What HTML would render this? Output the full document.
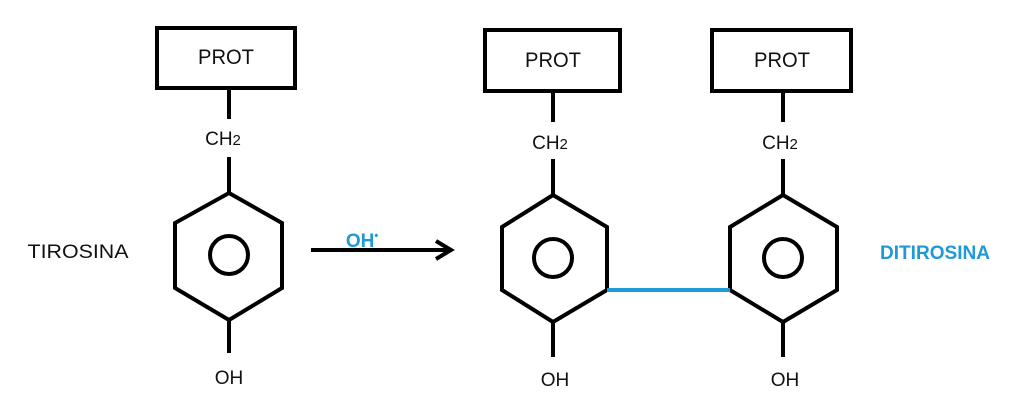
<!DOCTYPE html>
<html><head><style>body{margin:0;background:#fff}svg{display:block}</style></head><body>
<svg width="1024" height="408" viewBox="0 0 1024 408" font-family="Liberation Sans, sans-serif">
<g fill="none" stroke="#000" stroke-width="4">
<rect x="157" y="28" width="138" height="60"/>
<line x1="229" y1="88" x2="229" y2="119"/>
<line x1="229" y1="157" x2="229" y2="193"/>
<polygon points="229,193 282,223 282,288 229,320 175,288 175,223"/>
<circle cx="229" cy="255" r="19"/>
<line x1="229" y1="320" x2="229" y2="353"/>
<line x1="311" y1="250" x2="450" y2="250"/>
<polyline points="436,241 451,250 436,259"/>
<rect x="485" y="30" width="135" height="61"/>
<line x1="553" y1="91" x2="553" y2="122"/>
<line x1="553" y1="159" x2="553" y2="195"/>
<polygon points="553,195 607,227 607,290 553,322 502,290 502,227"/>
<circle cx="553" cy="258" r="19"/>
<line x1="553" y1="322" x2="553" y2="357"/>
<rect x="712" y="30" width="139" height="61"/>
<line x1="783" y1="91" x2="783" y2="122"/>
<line x1="783" y1="159" x2="783" y2="195"/>
<polygon points="783,195 837,227 837,290 783,322 730,290 730,227"/>
<circle cx="783" cy="258" r="19"/>
<line x1="783" y1="322" x2="783" y2="357"/>
</g>
<line x1="607" y1="290" x2="730" y2="290" stroke="#1e9ad6" stroke-width="4"/>
<g font-size="21" fill="#111" text-anchor="middle">
<text x="226" y="64" textLength="56" lengthAdjust="spacingAndGlyphs">PROT</text>
<text x="553" y="67" textLength="56" lengthAdjust="spacingAndGlyphs">PROT</text>
<text x="782" y="67" textLength="56" lengthAdjust="spacingAndGlyphs">PROT</text>
<text x="223" y="145" font-size="19">CH<tspan font-size="15">2</tspan></text>
<text x="550" y="149" font-size="19">CH<tspan font-size="15">2</tspan></text>
<text x="780" y="149" font-size="19">CH<tspan font-size="15">2</tspan></text>
<text x="229" y="384" font-size="19">OH</text>
<text x="555" y="386" font-size="19">OH</text>
<text x="785" y="386" font-size="19">OH</text>
<text x="78" y="258" font-size="19" textLength="101" lengthAdjust="spacingAndGlyphs">TIROSINA</text>
</g>
<text x="362" y="247" font-size="19" fill="#1e9ad6" text-anchor="middle" font-weight="bold">OH<tspan font-size="11" dy="-8">•</tspan></text>
<text x="935" y="259" font-size="19" fill="#1e9ad6" text-anchor="middle" font-weight="bold" textLength="110" lengthAdjust="spacingAndGlyphs">DITIROSINA</text>
</svg>
</body></html>
